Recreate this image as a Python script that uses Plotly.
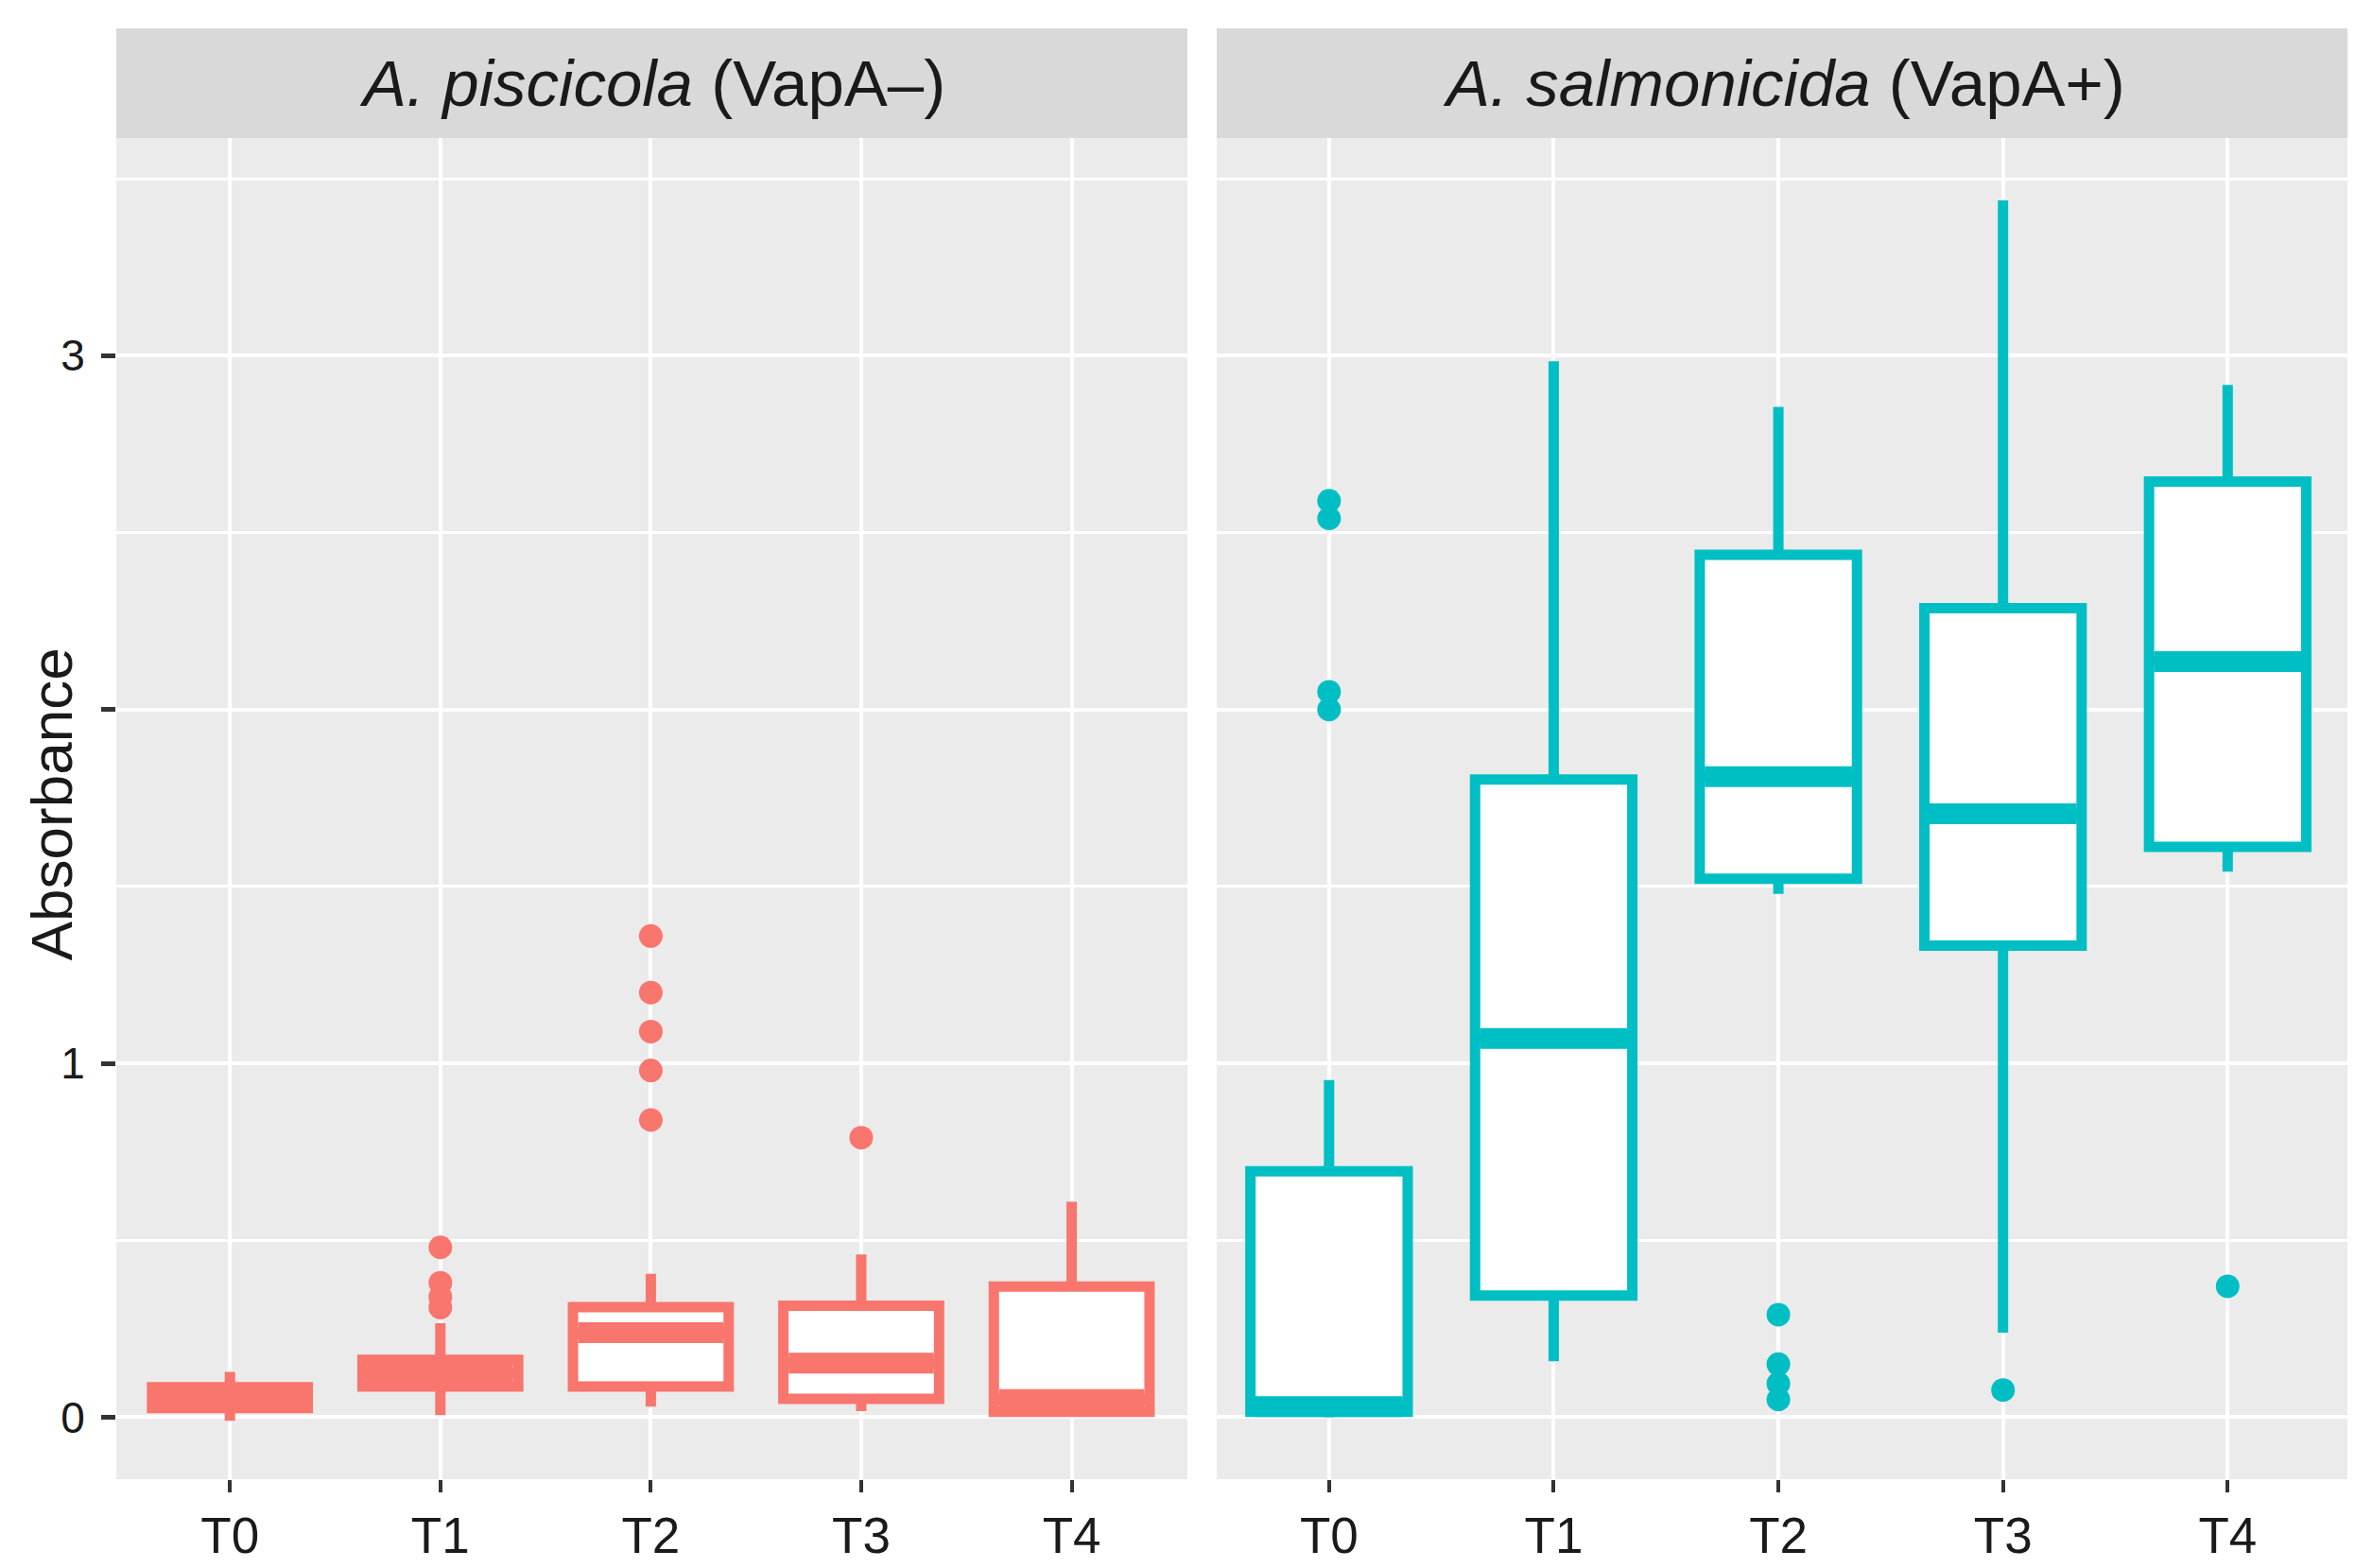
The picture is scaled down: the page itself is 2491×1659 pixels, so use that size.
import plotly.graph_objects as go

# time points shared by both facets
timepoints = ["T0", "T1", "T2", "T3", "T4"]

# A. piscicola (VapA-) box statistics
pisc_lower = [-0.01, 0.006, 0.030, 0.017, 0.015]
pisc_q1 = [0.026, 0.087, 0.087, 0.052, 0.015]
pisc_median = [0.055, 0.124, 0.239, 0.153, 0.050]
pisc_q3 = [0.085, 0.162, 0.311, 0.315, 0.369]
pisc_upper = [0.128, 0.266, 0.405, 0.460, 0.609]
pisc_out_t = ["T1", "T1", "T1", "T1", "T2", "T2", "T2", "T2", "T2", "T3"]
pisc_out_y = [0.48, 0.38, 0.34, 0.31, 1.36, 1.20, 1.09, 0.98, 0.84, 0.79]

# A. salmonicida (VapA+) box statistics
salm_lower = [0.0, 0.158, 1.479, 0.239, 1.542]
salm_q1 = [0.015, 0.344, 1.522, 1.333, 1.612]
salm_median = [0.030, 1.070, 1.810, 1.705, 2.135]
salm_q3 = [0.695, 1.802, 2.437, 2.286, 2.644]
salm_upper = [0.953, 2.984, 2.855, 3.439, 2.917]
salm_out_t = ["T0", "T0", "T0", "T0", "T2", "T2", "T2", "T2", "T3", "T4"]
salm_out_y = [2.59, 2.54, 2.05, 2.00, 0.29, 0.15, 0.095, 0.05, 0.077, 0.37]

y_ticks = [0, 1, 2, 3]
y_ticktext = ["0", "1", "", "3"]

RED = "#F8766D"
TEAL = "#00BFC4"
FONT = "Liberation Sans, Arial, Helvetica, sans-serif"
LW = 11

W, H = 2491, 1659
M_L, M_R, M_T, M_B = 115, 12, 138, 102
plot_w = W - M_L - M_R
plot_h = H - M_T - M_B

fig = go.Figure()


def add_panel(xa, ya, color, lower, q1, med, q3, upper, out_t, out_y, box_w, med_w):
    # box with whiskers
    fig.add_trace(go.Box(
        x=timepoints, q1=q1, median=med, q3=q3,
        lowerfence=lower, upperfence=upper,
        boxpoints=False, fillcolor="white",
        line=dict(color=color, width=LW),
        whiskerwidth=0, width=box_w,
        xaxis=xa, yaxis=ya, showlegend=False,
    ))
    # thicker median line (ggplot draws it twice as thick)
    fig.add_trace(go.Box(
        x=timepoints, q1=med, median=med, q3=med,
        lowerfence=med, upperfence=med,
        boxpoints=False, fillcolor="rgba(0,0,0,0)",
        line=dict(color=color, width=2 * LW),
        whiskerwidth=0, width=med_w,
        xaxis=xa, yaxis=ya, showlegend=False,
    ))
    # outliers
    fig.add_trace(go.Scatter(
        x=out_t, y=out_y, mode="markers",
        marker=dict(color=color, size=25, line=dict(width=0)),
        xaxis=xa, yaxis=ya, showlegend=False,
    ))


add_panel("x", "y", RED, pisc_lower, pisc_q1, pisc_median, pisc_q3, pisc_upper,
          pisc_out_t, pisc_out_y, 0.74, 0.69)
add_panel("x2", "y2", TEAL, salm_lower, salm_q1, salm_median, salm_q3, salm_upper,
          salm_out_t, salm_out_y, 0.70, 0.655)

xaxis_style = dict(
    type="category", categoryorder="array", categoryarray=timepoints,
    showgrid=True, gridcolor="white", gridwidth=4,
    zeroline=False, showline=False,
    ticks="outside", ticklen=13, tickwidth=4, tickcolor="#333333",
    tickfont=dict(family=FONT, size=53, color="#1a1a1a"),
)
yaxis_style = dict(
    range=[-0.175, 3.615],
    showgrid=True, gridcolor="white", gridwidth=4,
    zeroline=False, showline=False,
    minor=dict(tickmode="array", tickvals=[0.5, 1.5, 2.5, 3.5],
               showgrid=True, gridcolor="white", gridwidth=3, ticks=""),
)

split_l = (1248 - M_L) / plot_w
split_r = (1279 - M_L) / plot_w

fig.update_layout(
    width=W, height=H,
    margin=dict(l=M_L, r=M_R, t=M_T, b=M_B),
    paper_bgcolor="white", plot_bgcolor="#EBEBEB",
    font=dict(family=FONT, color="#1a1a1a"),
    boxmode="overlay",
    showlegend=False,
    xaxis=dict(domain=[0, split_l], range=[-0.54, 4.55], anchor="y", **xaxis_style),
    xaxis2=dict(domain=[split_r, 1], range=[-0.5, 4.55], anchor="y2", **xaxis_style),
    yaxis=dict(anchor="x", tickmode="array", tickvals=y_ticks, ticktext=y_ticktext,
               ticks="outside", ticklen=15, tickwidth=5, tickcolor="#333333",
               ticklabelstandoff=8,
               tickfont=dict(family=FONT, size=46, color="#1a1a1a"),
               **yaxis_style),
    yaxis2=dict(anchor="x2", matches="y", tickmode="array", tickvals=y_ticks,
                showticklabels=False, ticks="", **yaxis_style),
)

# facet strips
strip_top = 1 + (M_T - 22) / plot_h
strips = [("x", "<i>A. piscicola</i> (VapA–)"), ("x2", "<i>A. salmonicida</i> (VapA+)")]
for xa, label in strips:
    fig.add_shape(type="rect", xref=f"{xa} domain", yref="paper",
                  x0=0, x1=1, y0=1, y1=strip_top,
                  fillcolor="#D9D9D9", line=dict(width=0), layer="below")
    fig.add_annotation(xref=f"{xa} domain", yref="paper", x=0.5, y=(1 + strip_top) / 2,
                       text=label, showarrow=False, xanchor="center", yanchor="middle",
                       font=dict(family=FONT, size=69, color="#1a1a1a"))

# y axis title
fig.add_annotation(xref="paper", yref="paper", x=(46 - M_L) / plot_w, y=0.503,
                   text="Absorbance", textangle=-90, showarrow=False,
                   xanchor="center", yanchor="middle",
                   font=dict(family=FONT, size=62, color="#1a1a1a"))

fig.write_html("out.html")
